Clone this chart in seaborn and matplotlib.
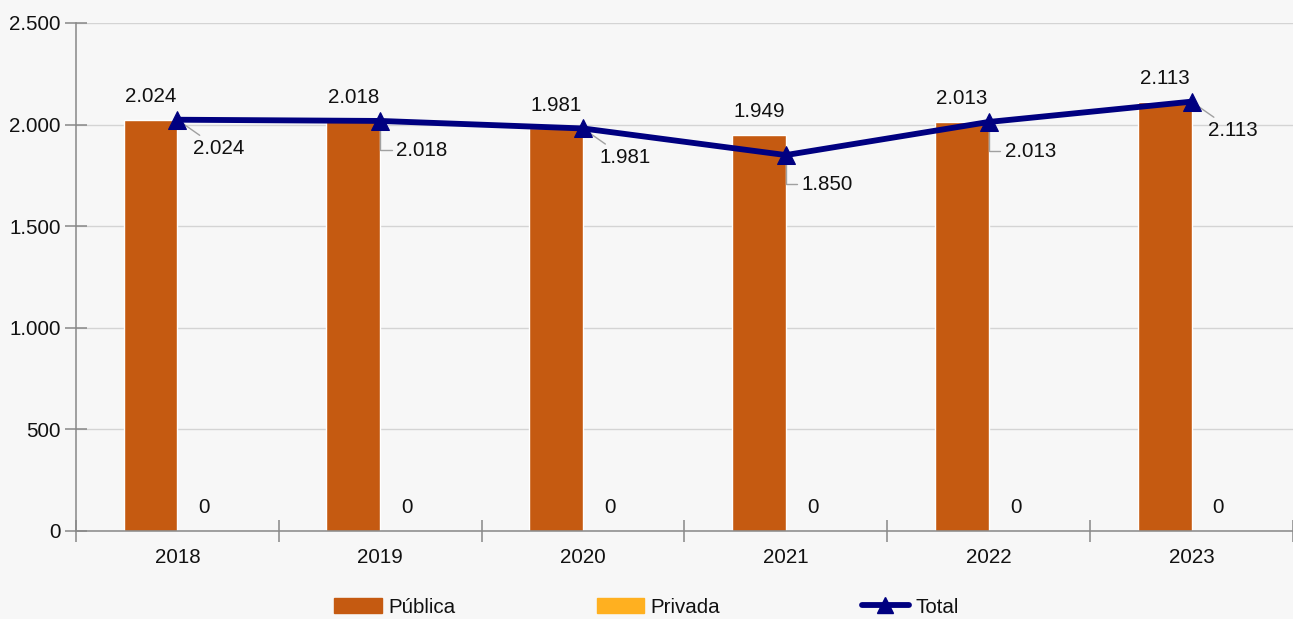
import numpy as np
import pandas as pd
import seaborn as sns
import matplotlib.pyplot as plt
from matplotlib.patches import Patch
from matplotlib.lines import Line2D

years = ["2018", "2019", "2020", "2021", "2022", "2023"]
publica = [2024, 2018, 1981, 1949, 2013, 2113]
privada = [0, 0, 0, 0, 0, 0]
total = [2024, 2018, 1981, 1850, 2013, 2113]
# leader style for the Total labels, as drawn in the reference
elbow = [False, True, False, True, True, False]

c_pub = "#c55a11"
c_priv = "#ffb020"
c_tot = "#000080"
bg = "#f7f7f7"
fs = 14.8

sns.set_style("white", {"axes.facecolor": bg, "figure.facecolor": bg})
plt.rcParams["font.family"] = ["Liberation Sans", "DejaVu Sans"]
plt.rcParams["font.size"] = fs
plt.rcParams["text.color"] = "#111111"
plt.rcParams["xtick.color"] = "#888888"
plt.rcParams["ytick.color"] = "#888888"
plt.rcParams["xtick.labelcolor"] = "#111111"
plt.rcParams["ytick.labelcolor"] = "#111111"


def fmt(v):
    return f"{v:,}".replace(",", ".")


df = pd.DataFrame(
    {
        "year": years * 2,
        "tipo": ["Pública"] * len(years) + ["Privada"] * len(years),
        "valor": publica + privada,
    }
)

fig = plt.figure(figsize=(12.93, 6.19), dpi=100)
ax = fig.add_axes([76 / 1293, 88 / 619, 1 - 76 / 1293, 508 / 619])

sns.barplot(
    data=df, x="year", y="valor", hue="tipo", palette=[c_pub, c_priv],
    width=0.53, ax=ax, legend=False, saturation=1, zorder=2,
)
x = np.arange(len(years))
sns.lineplot(
    x=x, y=total, color=c_tot, lw=4.2, marker="^", markersize=13,
    markeredgecolor=c_tot, ax=ax, zorder=4,
)

ax.set_xlim(-0.5, 5.48)
ax.set_ylim(0, 2500)
ax.set_yticks(range(0, 2501, 500))
ax.set_yticklabels([fmt(v) for v in range(0, 2501, 500)])
ax.set_xticks(x)
ax.set_xticklabels(years)
ax.set_xticks(np.arange(-0.5, 6, 1), minor=True)
ax.set_xlabel("")
ax.set_ylabel("")
ax.tick_params(axis="x", which="major", bottom=True, length=0, pad=12, labelsize=fs)
ax.tick_params(axis="x", which="minor", bottom=True, length=16, width=1.1,
               direction="inout", color="#888888")
ax.tick_params(axis="y", left=True, length=16, width=1.1, direction="inout",
               color="#888888", pad=3, labelsize=fs)
ax.yaxis.grid(True, color="#d4d4d4", lw=1, zorder=0)
ax.set_axisbelow(True)
for s in ["top", "right"]:
    ax.spines[s].set_visible(False)
for s in ["left", "bottom"]:
    ax.spines[s].set_color("#888888")
    ax.spines[s].set_linewidth(1.1)

# labels above the bars
bw = 0.53 / 2
for i in x:
    ax.annotate(fmt(publica[i]), (i - bw / 2, publica[i]), xytext=(0, 10),
                textcoords="offset points", ha="center", va="bottom", fontsize=fs)
    ax.annotate(fmt(privada[i]), (i + bw / 2, privada[i]), xytext=(0, 17),
                textcoords="offset points", ha="center", va="center", fontsize=fs)
    cs = "angle,angleA=0,angleB=90,rad=0" if elbow[i] else "arc3"
    ax.annotate(fmt(total[i]), (i, total[i]), xytext=(30, -21),
                textcoords="offset points", ha="center", va="center", fontsize=fs,
                zorder=3,
                arrowprops=dict(arrowstyle="-", color="#a0a0a0", lw=1,
                                shrinkA=1, shrinkB=0, connectionstyle=cs))

handles = [
    Patch(color=c_pub, label="Pública"),
    Patch(color=c_priv, label="Privada"),
    Line2D([], [], color=c_tot, lw=4.2, marker="^", markersize=11, label="Total"),
]
fig.legend(handles=handles, loc="lower center", bbox_to_anchor=(0.5, 0.004), ncol=3,
           frameon=False, fontsize=fs, handlelength=2.3, handleheight=0.75,
           handletextpad=0.3, columnspacing=6.9, borderpad=0, borderaxespad=0)

fig.savefig("out.png", dpi=100, facecolor=bg)
